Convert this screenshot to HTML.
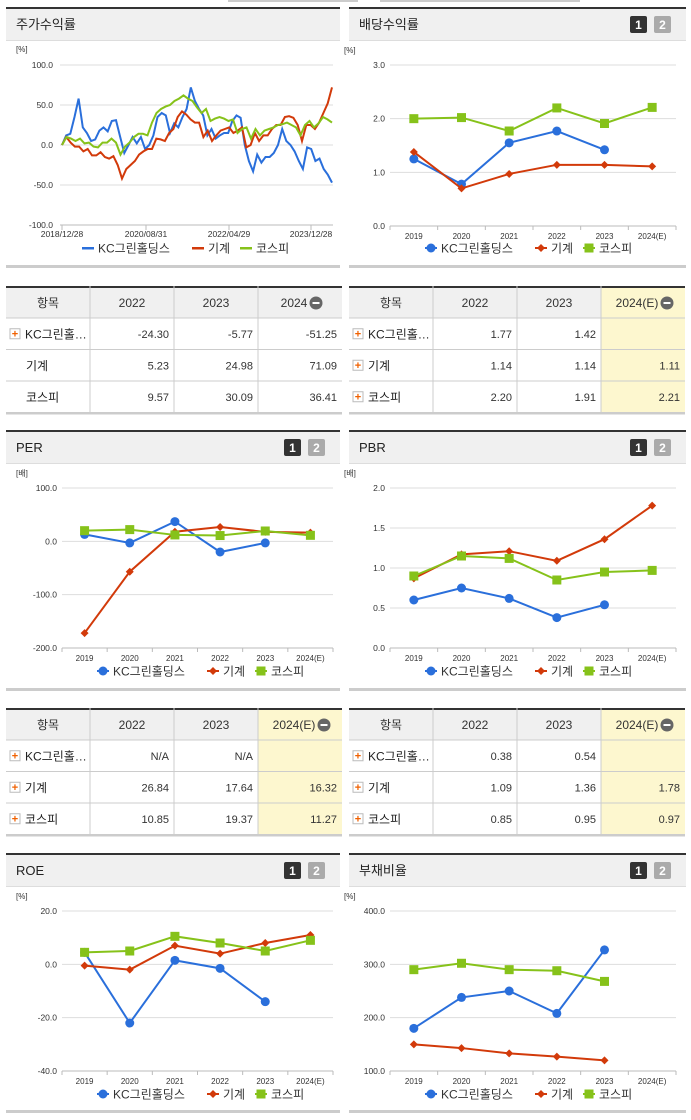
<!DOCTYPE html>
<html><head><meta charset="utf-8">
<style>
body{margin:0;background:#fff;width:691px;height:1115px;overflow:hidden;font-family:"Liberation Sans","Noto Sans CJK KR",sans-serif;}
svg text{font-family:"Liberation Sans","Noto Sans CJK KR",sans-serif;}
</style></head>
<body>
<svg id="s" width="691" height="1115" xmlns="http://www.w3.org/2000/svg"></svg>
<script>
// ---- data ----
const stockKC=[0,12,14,35,58,22,15,5,7,18,22,17,30,31,10,-10,0,10,2,10,-5,0,12,35,40,37,15,27,22,35,45,72,55,45,37,12,20,8,12,15,15,30,37,34,0,-20,-33,-12,-22,-15,-15,-10,0,20,5,0,-8,-20,-30,-3,-5,-20,-17,-30,-37,-47];
const stockMach=[0,10,3,-2,-2,-8,-5,-13,-13,-9,-15,-17,-14,-25,-42,-30,-25,-20,-12,-8,-5,-5,8,7,5,15,20,35,42,38,32,28,28,10,18,5,12,18,20,22,15,18,22,-3,0,15,5,12,12,20,25,25,35,36,34,25,5,25,25,20,28,40,52,72];
const stockKospi=[0,10,8,5,8,2,3,-2,-3,3,3,8,3,-12,-2,3,10,14,14,12,28,40,45,48,50,55,58,62,58,55,47,40,45,30,33,35,33,30,32,15,20,22,8,20,12,18,20,22,25,26,28,25,22,12,25,30,22,27,35,32,28];
const stockTicks=["100.0","50.0","0.0","-50.0","-100.0"];
const stockDates=["2018/12/28","2020/08/31","2022/04/29","2023/12/28"];
const years=["2019","2020","2021","2022","2023","2024(E)"];
const divKC=[1.25,0.78,1.55,1.77,1.42,null], divMach=[1.38,0.70,0.97,1.14,1.14,1.11], divKospi=[2.0,2.02,1.77,2.20,1.91,2.21];
const perKC=[13,-3,37,-20,-3,null], perMach=[-172,-57,18,26.84,17.64,16.32], perKospi=[20,22,12,10.85,19.37,11.27];
const pbrKC=[0.6,0.75,0.62,0.38,0.54,null], pbrMach=[0.87,1.17,1.21,1.09,1.36,1.78], pbrKospi=[0.90,1.15,1.12,0.85,0.95,0.97];
const roeKC=[4.5,-22,1.5,-1.5,-14,null], roeMach=[-0.5,-2,7,4,8,11], roeKospi=[4.5,5,10.5,8,5,9];
const debtKC=[180,238,250,208,327,null], debtMach=[150,143,133,127,120,null], debtKospi=[290,302,290,288,268,null];
const C={kc:"#2a6fdb",m:"#d23a0a",k:"#86c21a"};
const S=document.getElementById('s');const NS="http://www.w3.org/2000/svg";
function el(t,a,p){const e=document.createElementNS(NS,t);for(const k in a)e.setAttribute(k,a[k]);(p||S).appendChild(e);return e;}
function tx(x,y,s,o){const e=el('text',Object.assign({x:x,y:y,'font-size':9,fill:'#333'},o||{}));e.textContent=s;return e;}
function panel(x,w,top,bottom,title,btns,name){
  const g=el('g',{});
  el('rect',{x:x,y:top,width:w,height:33,fill:'#f0f0f0'},g);
  el('rect',{x:x,y:top,width:w,height:2,fill:'#333'},g);
  el('rect',{x:x,y:top+33,width:w,height:1,fill:'#ddd'},g);
  el('rect',{x:x,y:bottom,width:w,height:3,fill:'#ccc'},g);
  const t=tx(x+10,top+22,title,{'font-size':13,fill:'#222'});g.appendChild(t);
  if(btns){const b1=el('rect',{x:x+w-56,y:top+9,width:17,height:17,rx:2,fill:'#333'},g);
    g.appendChild(tx(x+w-47.5,top+22,'1',{'font-size':12,'font-weight':'bold',fill:'#fff','text-anchor':'middle'}));
    const b2=el('rect',{x:x+w-32,y:top+9,width:17,height:17,rx:2,fill:'#aaa'},g);
    g.appendChild(tx(x+w-23.5,top+22,'2',{'font-size':12,'font-weight':'bold',fill:'#fff','text-anchor':'middle'}));}
}
function marker(g,type,x,y,c){
  if(type==0)el('circle',{cx:x,cy:y,r:4.5,fill:c},g);
  else if(type==1)el('path',{d:`M${x} ${y-4}L${x+4} ${y}L${x} ${y+4}L${x-4} ${y}Z`,fill:c},g);
  else el('rect',{x:x-4.5,y:y-4.5,width:9,height:9,fill:c},g);
}
function legend(g,x0,y,lineStyle){
  const items=[["KC그린홀딩스",C.kc,0],["기계",C.m,1],["코스피",C.k,2]];
  const off=[0,110,158];
  items.forEach((it,i)=>{const x=x0+off[i];
    if(lineStyle){el('rect',{x:x-6,y:y-1,width:12,height:2.5,fill:it[1]},g);}
    else{el('line',{x1:x-6,y1:y,x2:x+6,y2:y,stroke:it[1],'stroke-width':2},g);marker(g,it[2],x,y,it[1]);}
    g.appendChild(tx(x+10,y+4.5,it[0],{'font-size':12,fill:'#333'}));});
}
function catChart(name,L,R,top,bot,minV,maxV,ticks,series,legY,unit){
  const g=el('g',{});
  const y=v=>bot-(v-minV)/(maxV-minV)*(bot-top);
  const n=years.length,step=(R-L)/n,xc=i=>L+step*(i+0.5);
  g.appendChild(tx(L-46,top-12,unit,{'font-size':8}));
  ticks.forEach(t=>{const yy=y(t);el('line',{x1:L,y1:yy,x2:R,y2:yy,stroke:'#ddd'},g);
    g.appendChild(tx(L-5,yy+3,t.toFixed(1),{'font-size':8.5,'text-anchor':'end'}));});
  el('line',{x1:L,y1:bot,x2:R,y2:bot,stroke:'#bbb'},g);
  for(let i=0;i<=n;i++)el('line',{x1:L+step*i,y1:bot,x2:L+step*i,y2:bot+4,stroke:'#bbb'},g);
  years.forEach((c,i)=>g.appendChild(tx(xc(i),bot+13,c,{'font-size':8,'text-anchor':'middle'})));
  series.forEach((s,si)=>{const col=[C.kc,C.m,C.k][si];let d='';
    s.forEach((v,i)=>{if(v==null)return;d+=(d?'L':'M')+xc(i)+' '+y(v);});
    el('path',{d:d,stroke:col,'stroke-width':2,fill:'none'},g);
    s.forEach((v,i)=>{if(v!=null)marker(g,si,xc(i),y(v),col);});});
  legend(g,L+41,legY,false);
}
function table(name,x,top,headE,rows,yellowHead,yellowBody){
  const g=el('g',{});
  const W=336;const hh=32,rh=31.5;
  el('rect',{x:x,y:top,width:W,height:hh,fill:'#f0f0f0'},g);
  if(yellowHead)el('rect',{x:x+252,y:top,width:84,height:hh,fill:'#fdf7cf'},g);
  el('rect',{x:x+252,y:top+hh,width:84,height:rh*3,fill:yellowBody?'#fdf7cf':'#fff'},g);
  el('rect',{x:x,y:top,width:W,height:2,fill:'#333'},g);
  const hd=["항목","2022","2023",headE];
  hd.forEach((h,i)=>g.appendChild(tx(x+84*i+(i==3?36:42),top+21,h,{'font-size':12,'text-anchor':'middle'})));
  const mx=x+84*3+(headE.length>4?66:58);
  const mi=el('circle',{cx:mx,cy:top+17,r:6.5,fill:'#666'},g);
  el('rect',{x:mx-3.5,y:top+16,width:7,height:2,fill:'#fff'},g);
  for(let i=0;i<=3;i++){el('line',{x1:x,y1:top+hh+rh*i,x2:x+W,y2:top+hh+rh*i,stroke:'#ccc'},g);}
  el('rect',{x:x,y:top+hh+rh*3,width:W,height:2,fill:'#ccc'},g);
  for(let i=1;i<4;i++)el('line',{x1:x+84*i,y1:top,x2:x+84*i,y2:top+hh+rh*3,stroke:'#ccc'},g);
  rows.forEach((r,ri)=>{const cy=top+hh+rh*ri+rh/2;
    if(r[4]){const b=el('rect',{x:x+4,y:cy-5,width:10,height:10,fill:'#fff',stroke:'#bbb'},g);
      g.appendChild(tx(x+9,cy+3.5,'+',{'font-size':11,'font-weight':'bold',fill:'#f06000','text-anchor':'middle'}));}
    g.appendChild(tx(x+(r[4]?19:20),cy+4.5,r[0],{'font-size':12,fill:'#222'}));
    [r[1],r[2],r[3]].forEach((v,i)=>g.appendChild(tx(x+84*(i+2)-5,cy+4,v,{'font-size':11,'text-anchor':'end'})));});
}
// top tabs remnants
el('rect',{x:228,y:0,width:130,height:2,fill:'#ccc'});el('rect',{x:380,y:0,width:200,height:2,fill:'#ccc'});
// Panels
panel(6,334,7,265,'주가수익률',false,'stock-return-panel');
panel(349,337,7,265,'배당수익률',true,'dividend-yield-panel');
panel(6,334,430,688,'PER',true,'per-panel');
panel(349,337,430,688,'PBR',true,'pbr-panel');
panel(6,334,853,1110,'ROE',true,'roe-panel');
panel(349,337,853,1110,'부채비율',true,'debt-ratio-panel');
// stock chart
(function(){const g=el('g',{});
  const L=60,R=333,top=65,bot=225,y=v=>bot-(v+100)/200*(bot-top);
  g.appendChild(tx(16,52,'[%]',{'font-size':8}));
  stockTicks.forEach(t=>{const yy=y(parseFloat(t));el('line',{x1:L,y1:yy,x2:R,y2:yy,stroke:'#ddd'},g);g.appendChild(tx(L-7,yy+3,t,{'font-size':8.5,'text-anchor':'end'}));});
  el('line',{x1:L,y1:bot,x2:R,y2:bot,stroke:'#bbb'},g);
  const dx=[62,146,229,311];
  stockDates.forEach((d,i)=>{el('line',{x1:dx[i],y1:bot,x2:dx[i],y2:bot+5,stroke:'#bbb'},g);g.appendChild(tx(dx[i],bot+12,d,{'font-size':8.5,'text-anchor':'middle'}));});
  [[stockKC,C.kc],[stockMach,C.m],[stockKospi,C.k]].forEach(([s,c])=>{const xs=i=>62+i*(270/(s.length-1));
    el('path',{d:s.map((v,i)=>(i?'L':'M')+xs(i).toFixed(1)+' '+y(v).toFixed(1)).join(''),stroke:c,'stroke-width':2,fill:'none'},g);});
  legend(g,88,248,true);
})();
catChart('dividend-chart',390,676,65,226,0,3,[0,1,2,3],[divKC,divMach,divKospi],248,'[%]');
catChart('per-chart',62,333,488,648,-200,100,[100,0,-100,-200],[perKC,perMach,perKospi],671,'[배]');
catChart('pbr-chart',390,676,488,648,0,2,[0,0.5,1,1.5,2],[pbrKC,pbrMach,pbrKospi],671,'[배]');
catChart('roe-chart',62,333,911,1071,-40,20,[20,0,-20,-40],[roeKC,roeMach,roeKospi],1094,'[%]');
catChart('debt-chart',390,676,911,1071,100,400,[400,300,200,100],[debtKC,debtMach,debtKospi],1094,'[%]');
table('stock-return-table',6,286,'2024',[["KC그린홀…","-24.30","-5.77","-51.25",1],["기계","5.23","24.98","71.09",0],["코스피","9.57","30.09","36.41",0]],false,false);
table('dividend-table',349,286,'2024(E)',[["KC그린홀…","1.77","1.42","",1],["기계","1.14","1.14","1.11",1],["코스피","2.20","1.91","2.21",1]],true,true);
table('per-table',6,708,'2024(E)',[["KC그린홀…","N/A","N/A","",1],["기계","26.84","17.64","16.32",1],["코스피","10.85","19.37","11.27",1]],true,true);
table('pbr-table',349,708,'2024(E)',[["KC그린홀…","0.38","0.54","",1],["기계","1.09","1.36","1.78",1],["코스피","0.85","0.95","0.97",1]],true,true);
</script>
</body></html>
